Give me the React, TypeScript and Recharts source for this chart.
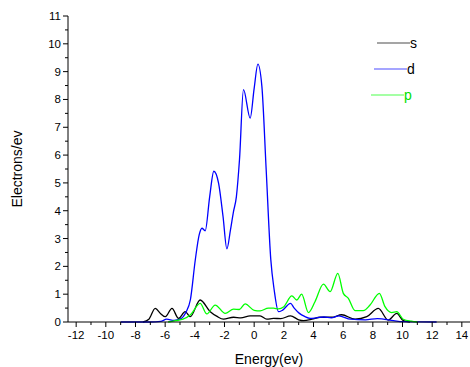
import { LineChart, Line, XAxis, YAxis } from "recharts";

// s orbital
const sEnergy = [-7.5, -7.1, -6.67, -6.3, -5.99, -5.54, -5.1, -4.65, -4.31, -3.64, -2.96, -2.5, -2.07, -1.39, -0.9, -0.27, 0.4, 0.85, 1.3, 1.8, 2.45, 3.0, 3.32, 3.9, 4.44, 5.23, 5.9, 6.8, 7.59, 8.37, 9.04, 9.61, 10.05, 10.5];
const sValues = [0, 0.1, 0.49, 0.3, 0.19, 0.49, 0.13, 0.37, 0.19, 0.79, 0.37, 0.2, 0.1, 0.17, 0.15, 0.22, 0.22, 0.1, 0.13, 0.12, 0.22, 0.08, 0.05, 0.1, 0.17, 0.17, 0.26, 0.1, 0.19, 0.49, 0.07, 0.31, 0.05, 0];

// d orbital
const dEnergy = [-9.0, -7.0, -6.3, -5.9, -5.4, -5.0, -4.6, -4.3, -3.97, -3.7, -3.52, -3.3, -3.0, -2.72, -2.4, -2.1, -1.84, -1.6, -1.4, -1.2, -0.99, -0.72, -0.27, 0.0, 0.25, 0.52, 0.81, 1.12, 1.35, 1.64, 1.9, 2.45, 2.7, 3.05, 3.4, 3.77, 4.2, 4.7, 5.2, 5.7, 6.5, 7.5, 8.3, 9.4, 10.0, 12.3];
const dValues = [0, 0, 0.02, 0.1, 0.06, 0.1, 0.35, 0.8, 2.23, 3.15, 3.37, 3.28, 4.5, 5.42, 4.99, 3.8, 2.63, 3.3, 3.95, 4.5, 5.83, 8.35, 7.33, 8.4, 9.27, 8.47, 5.47, 2.25, 1.15, 0.37, 0.42, 0.67, 0.5, 0.31, 0.2, 0.13, 0.15, 0.18, 0.15, 0.22, 0.1, 0.08, 0.12, 0.05, 0.01, 0];

// p orbital
const pEnergy = [-5.8, -5.3, -4.8, -4.31, -3.64, -3.19, -2.63, -1.95, -1.39, -1.0, -0.61, 0.0, 0.4, 0.96, 1.3, 1.64, 2.0, 2.54, 2.87, 3.2, 3.66, 4.1, 4.67, 5.12, 5.64, 6.01, 6.35, 6.8, 7.36, 7.81, 8.44, 8.82, 9.27, 9.61, 10.05, 10.6, 11.0];
const pValues = [0, 0.05, 0.1, 0.25, 0.67, 0.29, 0.61, 0.31, 0.46, 0.45, 0.65, 0.42, 0.4, 0.5, 0.5, 0.47, 0.55, 0.94, 0.79, 1.0, 0.34, 0.73, 1.36, 1.09, 1.75, 1.03, 0.85, 0.41, 0.41, 0.61, 1.03, 0.55, 0.34, 0.37, 0.1, 0.03, 0];

const xTicks = [-12, -11, -10, -9, -8, -7, -6, -5, -4, -3, -2, -1, 0, 1, 2, 3, 4, 5, 6, 7, 8, 9, 10, 11, 12, 13, 14];
const yTicks = [0, 0.5, 1, 1.5, 2, 2.5, 3, 3.5, 4, 4.5, 5, 5.5, 6, 6.5, 7, 7.5, 8, 8.5, 9, 9.5, 10, 10.5, 11];

const legendItems = [
  { name: "s", color: "#000000", textColor: "#000000" },
  { name: "d", color: "#0000ff", textColor: "#000000" },
  { name: "p", color: "#00ff00", textColor: "#00e000" },
];

const toPoints = (xs: number[], ys: number[]) => xs.map((e, i) => ({ e, v: ys[i] }));

const font = "'Liberation Sans', Arial, sans-serif";

function XTick(props: any) {
  const { x, y, payload } = props;
  const major = payload.value % 2 === 0;
  return (
    <g>
      <line x1={x} y1={y} x2={x} y2={y + (major ? 5 : 3)} stroke="#000" strokeWidth={1} />
      {major && (
        <text x={x} y={y + 17} textAnchor="middle" fontSize={11.5} fontFamily={font} fill="#000">
          {payload.value}
        </text>
      )}
    </g>
  );
}

function YTick(props: any) {
  const { x, y, payload } = props;
  const major = Number.isInteger(payload.value);
  return (
    <g>
      <line x1={x} y1={y} x2={x - (major ? 5 : 3)} y2={y} stroke="#000" strokeWidth={1} />
      {major && (
        <text x={x - 7} y={y + 4} textAnchor="end" fontSize={11.5} fontFamily={font} fill="#000">
          {payload.value}
        </text>
      )}
    </g>
  );
}

function LegendBox() {
  return (
    <svg width={60} height={80} style={{ position: "absolute", left: 369, top: 35 }}>
      {legendItems.map((it, i) => {
        const y = 8 + i * 26;
        const x0 = 8 - i * 3;
        return (
          <g key={it.name}>
            <line x1={x0} y1={y} x2={x0 + 33} y2={y} stroke={it.color} strokeWidth={1.2} opacity={0.7} />
            <text x={x0 + 33} y={y + 5} fontSize={14} fontFamily={font} fill={it.textColor}>
              {it.name}
            </text>
          </g>
        );
      })}
    </svg>
  );
}

export default function App() {
  return (
    <div style={{ position: "absolute", left: 0, top: 0, width: 470, height: 367, background: "#fff" }}>
      <LineChart width={470} height={367} margin={{ top: 16, right: 0, left: 0, bottom: 0 }}>
        <XAxis
          dataKey="e"
          type="number"
          domain={[-12.55, 14.55]}
          ticks={xTicks}
          interval={0}
          tickLine={false}
          tickSize={0}
          tickMargin={0}
          tick={<XTick />}
          height={45}
          stroke="#000"
          allowDataOverflow
          label={{ value: "Energy(ev)", position: "insideBottom", offset: 3, fontSize: 14, fontFamily: font, fill: "#000" }}
        />
        <YAxis
          type="number"
          domain={[0, 11]}
          ticks={yTicks}
          interval={0}
          tickLine={false}
          tickSize={0}
          tickMargin={0}
          tick={<YTick />}
          width={68}
          stroke="#000"
          label={{ value: "Electrons/ev", angle: -90, position: "insideLeft", offset: 17, fontSize: 14, fontFamily: font, fill: "#000", style: { textAnchor: "middle" } }}
        />
        <Line data={toPoints(sEnergy, sValues)} dataKey="v" name="s" type="monotone" stroke="#000000" strokeWidth={1.3} dot={false} isAnimationActive={false} />
        <Line data={toPoints(dEnergy, dValues)} dataKey="v" name="d" type="monotone" stroke="#0000ff" strokeWidth={1.3} dot={false} isAnimationActive={false} />
        <Line data={toPoints(pEnergy, pValues)} dataKey="v" name="p" type="monotone" stroke="#00ff00" strokeWidth={1.3} dot={false} isAnimationActive={false} />
      </LineChart>
      <LegendBox />
    </div>
  );
}
